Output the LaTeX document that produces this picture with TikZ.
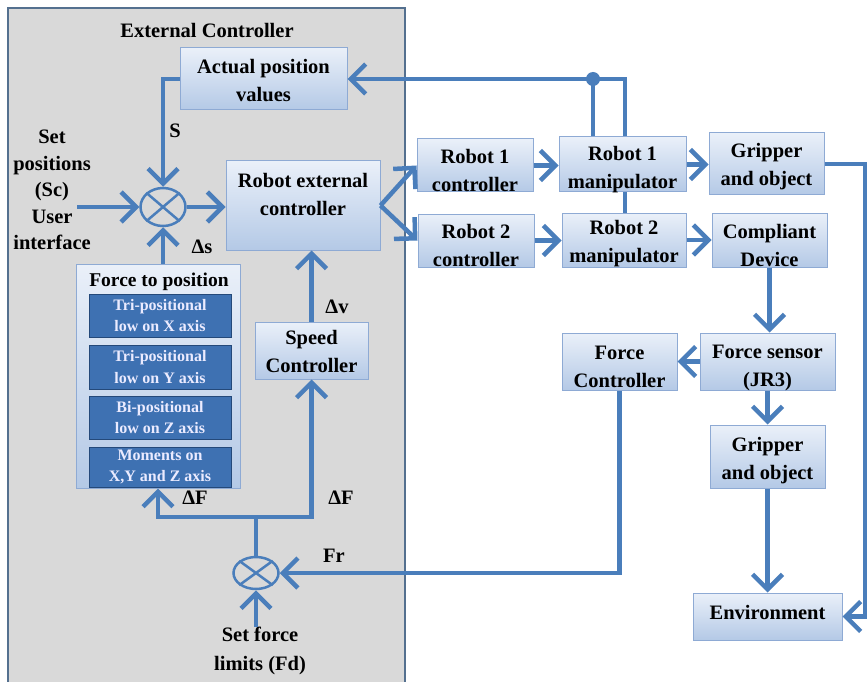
\documentclass[tikz,border=0pt]{standalone}
\usepackage{fontspec}
\setmainfont{Liberation Serif}
\usetikzlibrary{arrows.meta,shapes.geometric}
\definecolor{flow}{HTML}{4A7EBB}
\definecolor{boxline}{HTML}{8EAAD4}
\definecolor{boxtop}{HTML}{EAF0F9}
\definecolor{boxbot}{HTML}{B4C9E6}
\definecolor{innerfill}{HTML}{3E71B2}
\definecolor{innerline}{HTML}{24497A}
\definecolor{panelfill}{HTML}{D9D9D9}
\definecolor{panelline}{HTML}{54708F}
\tikzset{
  box/.style={draw=boxline, line width=1pt, top color=boxtop, bottom color=boxbot,
    inner sep=0pt},
  innerbox/.style={draw=innerline, line width=1pt, fill=innerfill, text=white!92!blue,
    inner sep=0pt, align=center, minimum width=142pt, font=\bfseries\fontsize{16}{21.5}\selectfont},
  lbl/.style={inner sep=0pt, align=center, font=\bfseries\fontsize{20.5}{28}\selectfont},
  link/.style={draw=flow, line width=4.5pt},
  arr/.style={link, -{Straight Barb[length=15pt,width=30pt]}},
  summer/.style={ellipse, draw=flow, line width=2.5pt, inner sep=0pt,
    minimum width=45pt, minimum height=36pt},
}
\begin{document}
\begin{tikzpicture}[x=1pt,y=-1pt]
\useasboundingbox (0,0) rectangle (868,682);
\fill[white] (0,0) rectangle (868,682);

% external controller panel
\draw[panelline, fill=panelfill, line width=1.6pt] (8,8) rectangle (405,700);
\node[lbl] (title) at (207,30) {External Controller};

% blocks inside the external controller
\node[box, minimum width=167pt, minimum height=62pt,
  label={[lbl,yshift=-2pt]center:{Actual position\\values}}] (apv) at (263.5,79) {};
\node[box, minimum width=154pt, minimum height=89pt,
  label={[lbl,yshift=11pt]center:{Robot external\\controller}}] (rec) at (303,205.5) {};
\node[box, minimum width=113pt, minimum height=57pt,
  label={[lbl,yshift=-1pt]center:{Speed\\Controller}}] (speed) at (311.5,350.5) {};
\node[box, minimum width=164pt, minimum height=224pt] (ftp) at (158,376) {};
\node[lbl, font=\bfseries\fontsize{19.5}{24}\selectfont] (ftptitle) at (159,282) {Force to position};
\node[innerbox, minimum height=43pt] (law1) at (160,315.5) {Tri-positional\\low on X axis};
\node[innerbox, minimum height=44pt] (law2) at (160,367) {Tri-positional\\low on Y axis};
\node[innerbox, minimum height=43pt] (law3) at (160,417.5) {Bi-positional\\low on Z axis};
\node[innerbox, minimum height=40pt] (law4) at (160,467) {Moments on\\X,Y and Z axis};

% summing junctions
\node[summer, minimum height=38pt] (s1) at (163,207) {};
\node[summer, minimum height=32pt] (s2) at (256,573) {};
\foreach \s in {s1,s2}{
  \draw[flow, line width=2.5pt] (\s.north east) -- (\s.south west);
  \draw[flow, line width=2.5pt] (\s.north west) -- (\s.south east);
}

% plant side blocks
\node[box, minimum width=116pt, minimum height=53pt,
  label={[lbl,yshift=-5pt]center:{Robot 1\\controller}}] (r1c) at (475,165.5) {};
\node[box, minimum width=116pt, minimum height=53pt,
  label={[lbl,yshift=-5pt]center:{Robot 2\\controller}}] (r2c) at (476,240.5) {};
\node[box, minimum width=127pt, minimum height=55pt,
  label={[lbl,yshift=-5pt]center:{Robot 1\\manipulator}}] (r1m) at (622.5,164.5) {};
\node[box, minimum width=124pt, minimum height=54pt,
  label={[lbl,yshift=-4pt]center:{Robot 2\\manipulator}}] (r2m) at (624,240) {};
\node[box, minimum width=115pt, minimum height=62pt,
  label={[lbl,yshift=-3pt]center:{Gripper\\and object}}] (g1) at (766.5,164) {};
\node[box, minimum width=115pt, minimum height=54pt,
  label={[lbl,yshift=-5pt]center:{Compliant\\Device}}] (cd) at (769.5,240) {};
\node[box, minimum width=135pt, minimum height=57pt,
  label={[lbl,yshift=-6pt]center:{Force sensor\\(JR3)}}] (fs) at (767.5,361.5) {};
\node[box, minimum width=115pt, minimum height=57pt,
  label={[lbl,yshift=-5pt]center:{Force\\Controller}}] (fc) at (619.5,361.5) {};
\node[box, minimum width=115pt, minimum height=63pt,
  label={[lbl,yshift=-4pt]center:{Gripper\\and object}}] (g2) at (767.5,456.5) {};
\node[box, minimum width=149pt, minimum height=47pt,
  label={[lbl,yshift=4pt]center:Environment}] (env) at (767.5,616.5) {};

% free texts
\node[lbl, font=\bfseries\fontsize{20.5}{26.5}\selectfont] (setpos) at (52,190) {Set\\positions\\(Sc)\\User\\interface};
\node[lbl, font=\bfseries\fontsize{20.5}{29}\selectfont] (setforce) at (260,651) {Set force\\limits (Fd)};
\node[lbl] (lS) at (175,131) {S};
\node[lbl] (lds) at (202,247) {Δs};
\node[lbl] (ldv) at (337,307) {Δv};
\node[lbl] (ldf1) at (195,498) {ΔF};
\node[lbl] (ldf2) at (341,498) {ΔF};
\node[lbl] (lfr) at (334,556) {Fr};

% helper points
\coordinate (dot) at (593,79);
\coordinate (spin) at (77,207);
\coordinate (split) at (256,517);
\coordinate (rt) at (865,616.5);

% connectors
\draw[arr] ([xshift=2.5pt]r1m.north) |- (apv.east);
\draw[link] (dot |- r1m.north) -- (dot);
\fill[flow] (dot) circle (7pt);
\draw[arr] (apv.west) -| (s1.north);
\draw[arr] (spin) -- (s1.west);
\draw[arr] (s1.east) -- (s1.east -| rec.west);
\draw[arr] (s1.south |- ftp.north) -- (s1.south);
\draw[arr] (speed.north) -- (speed.north |- rec.south);
\draw[arr] (rec.east) -- (r1c.west);
\draw[arr] (rec.east) -- (r2c.west);
\draw[arr] (r1c.east) -- (r1c.east -| r1m.west);
\draw[arr] (r2c.east) -- (r2c.east -| r2m.west);
\draw[arr] (r1m.east) -- (r1m.east -| g1.west);
\draw[arr] (r2m.east) -- (r2m.east -| cd.west);
\draw[link] ([xshift=2.5pt]r1m.south) -- ([xshift=2.5pt]r1m.south |- r2m.north);
\draw[arr] (g1.east) -| (rt) -- (env.east);
\draw[arr] (cd.south) -- (cd.south |- fs.north);
\draw[arr] (fs.west) -- (fc.east);
\draw[arr] (fs.south) -- (g2.north);
\draw[arr] (g2.south) -- (env.north);
\draw[arr] (fc.south) |- (s2.east);
\draw[link] (s2.north) -- (split);
\draw[arr] (split) -| (ftp.south);
\draw[arr] (split) -| (speed.south);
\draw[arr] (s2.south |- setforce.north) -- (s2.south);
\end{tikzpicture}
\end{document}
